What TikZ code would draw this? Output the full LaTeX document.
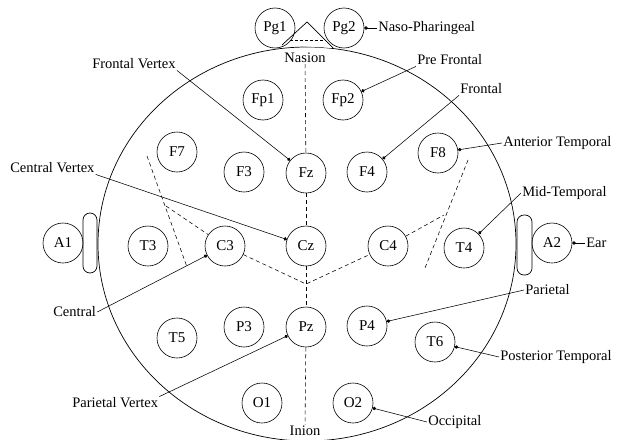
\documentclass[tikz,border=0pt]{standalone}
\usepackage{fontspec}
\setmainfont{Liberation Serif}
\usetikzlibrary{arrows.meta}
\newcommand\lblfont{\fontsize{14.5}{16}\selectfont}
\newcommand\elecfont{\fontsize{15}{17}\selectfont}
\tikzset{
  elec/.style={draw, circle, minimum size=40pt, inner sep=0pt, font=\elecfont},
  lbl/.style={inner sep=1pt, font=\lblfont, anchor=west},
  ptr/.style={-{Circle[length=3.4pt]}, line width=0.55pt},
  mid/.style={line width=0.55pt, dash pattern=on 4pt off 3pt},
  outline/.style={line width=0.7pt}
}
\begin{document}
\begin{tikzpicture}[x=1pt,y=-1pt, line width=0.6pt]
\useasboundingbox (0,0) rectangle (617,439);
% head
\draw[outline] (307,244) ellipse [x radius=209pt, y radius=197pt];
% nose
\draw[outline, fill=white] (282,45) -- (307,22) -- (333,48);
\draw[dash pattern=on 3pt off 2pt, line width=0.5pt] (290,40) -- (326,40);
% ears
\draw[outline, rounded corners=7pt] (83,213) rectangle (97,273);
\draw[outline, rounded corners=7pt] (517,215) rectangle (532,275);
% electrodes
\node[elec] (Pg1) at (275,28) {Pg1};
\node[elec] (Pg2) at (344,28) {Pg2};
\node[elec] (Fp1) at (263,100) {Fp1};
\node[elec] (Fp2) at (343,100) {Fp2};
\node[elec] (F7) at (177,152) {F7};
\node[elec] (F3) at (244,172) {F3};
\node[elec] (Fz) at (306,173) {Fz};
\node[elec] (F4) at (367,172) {F4};
\node[elec] (F8) at (438,153) {F8};
\node[elec] (A1) at (63,243) {A1};
\node[elec] (T3) at (148,246) {T3};
\node[elec] (C3) at (225,246) {C3};
\node[elec] (Cz) at (306,246) {Cz};
\node[elec] (C4) at (388,246) {C4};
\node[elec] (T4) at (464,248) {T4};
\node[elec] (A2) at (552,243) {A2};
\node[elec] (T5) at (177,338) {T5};
\node[elec] (P3) at (244,327) {P3};
\node[elec] (Pz) at (306,327) {Pz};
\node[elec] (P4) at (367,326) {P4};
\node[elec] (T6) at (435,342) {T6};
\node[elec] (O1) at (262,403) {O1};
\node[elec] (O2) at (353,403) {O2};
% landmarks
\node[inner sep=1pt, font=\lblfont] (Nas) at (305,58) {Nasion};
\node[inner sep=1pt, font=\lblfont] (Ini) at (305,431) {Inion};
% midline
\draw[mid] (Nas) -- (Fz);
\draw[mid] (Fz) -- (Cz);
\draw[mid] (Cz) -- (Pz);
\draw[mid] (Pz) -- (Ini);
% coronal and temporal lines
\coordinate (cl) at (166,206);
\coordinate (cm) at (306,284);
\coordinate (cr) at (444,215);
\draw[mid] (cl) -- (C3);
\draw[mid] (C3) -- (cm) -- (C4);
\draw[mid] (C4) -- (cr);
\coordinate (lt1) at (147,156);
\coordinate (lt2) at (187,267);
\coordinate (rt1) at (468,160);
\coordinate (rt2) at (425,268);
\draw[mid] (lt1) -- (lt2);
\draw[mid] (rt1) -- (rt2);
% labels
\node[lbl] (NP) at (377,28) {Naso-Pharingeal};
\node[lbl] (FV) at (91,64) {Frontal Vertex};
\node[lbl] (CV) at (9,168) {Central Vertex};
\node[lbl] (Ce) at (52,312) {Central};
\node[lbl] (PV) at (71,403) {Parietal Vertex};
\node[lbl] (PF) at (416,60) {Pre Frontal};
\node[lbl] (Fr) at (459,89) {Frontal};
\node[lbl] (AT) at (502,143) {Anterior Temporal};
\node[lbl] (MT) at (521,193) {Mid-Temporal};
\node[lbl] (Ear) at (585,243) {Ear};
\node[lbl] (Pa) at (524,290) {Parietal};
\node[lbl] (PT) at (499,357) {Posterior Temporal};
\node[lbl] (Oc) at (427,422) {Occipital};
% pointers
\draw[ptr] (NP.west) -- (Pg2);
\draw[ptr] (FV.south east) -- (Fz);
\draw[ptr] (CV.south east) -- (Cz);
\draw[ptr] (Ce.east) -- (C3);
\draw[ptr] (PV.north east) -- (Pz);
\draw[ptr] (PF.south west) -- (Fp2);
\draw[ptr] (Fr.south west) -- (F4);
\draw[ptr] (AT.west) -- (F8);
\draw[ptr] (MT.west) -- (T4);
\draw[ptr] (Ear.west) -- (A2);
\draw[ptr] (Pa.west) -- (P4);
\draw[ptr] (PT.west) -- (T6);
\draw[ptr] (Oc.west) -- (O2);
\end{tikzpicture}
\end{document}
